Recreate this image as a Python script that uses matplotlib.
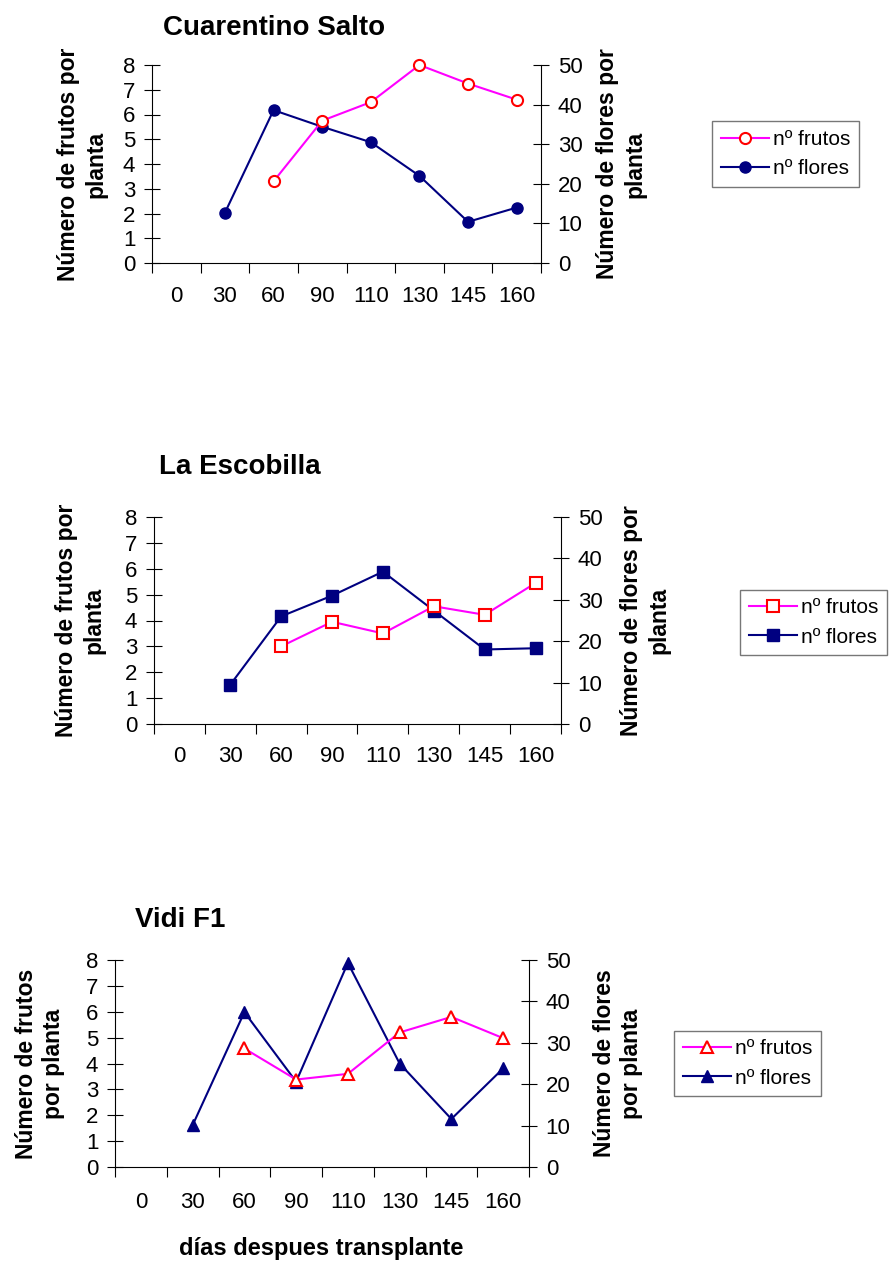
import matplotlib
matplotlib.use("Agg")
import matplotlib.pyplot as plt
import numpy as np

plt.rcParams["font.family"] = ["Liberation Sans", "DejaVu Sans"]

# ── data ────────────────────────────────────────────────────────────────────
dias = ["0", "30", "60", "90", "110", "130", "145", "160"]
nan = np.nan

salto_frutos = [nan, nan, 3.3, 5.75, 6.5, 8.0, 7.25, 6.6]
salto_flores = [nan, 12.7, 38.6, 34.4, 30.5, 22.0, 10.4, 14.0]

escobilla_frutos = [nan, nan, 3.0, 3.95, 3.5, 4.55, 4.22, 5.45]
escobilla_flores = [nan, 9.5, 26.0, 31.0, 36.8, 27.4, 18.0, 18.3]

vidi_frutos = [nan, nan, 4.58, 3.38, 3.6, 5.2, 5.8, 4.98]
vidi_flores = [nan, 10.1, 37.4, 20.6, 49.3, 25.0, 11.6, 23.8]

W, H = 894, 1263
PINK, RED, NAVY = "#ff00ff", "#ff0000", "#000080"

fig = plt.figure(figsize=(W / 100, H / 100), dpi=100)


def fx(x):
    return x / W


def fy(y):
    return 1 - y / H


def panel(box, title, title_xy, frutos, flores, marker, lab_l, lab_r, leg_box, xlab_y):
    x0, y0, x1, y1 = box
    ax = fig.add_axes([fx(x0), fy(y1), (x1 - x0) / W, (y1 - y0) / H])
    ax2 = ax.twinx()
    pos = np.arange(len(dias))

    l1, = ax.plot(pos, frutos, color=PINK, lw=1.5, marker=marker, ms=8,
                  mfc="white", mec=RED, mew=1.5, zorder=3, clip_on=False)
    l2, = ax2.plot(pos, flores, color=NAVY, lw=1.5, marker=marker, ms=8,
                   mfc=NAVY, mec=NAVY, zorder=3, clip_on=False)

    ax.set_xlim(-0.5, len(dias) - 0.5)
    ax.set_ylim(0, 8)
    ax2.set_ylim(0, 50)
    ax.set_yticks(range(0, 9))
    ax2.set_yticks(range(0, 51, 10))

    # tick marks between categories, labels at category centres
    ax.set_xticks(np.arange(-0.5, len(dias)))
    ax.set_xticklabels([])
    ax.tick_params(axis="x", which="major", direction="out", length=7, width=0.8)
    ax.set_xticks(pos, minor=True)
    ax.set_xticklabels(dias, minor=True)
    ax.tick_params(axis="x", which="minor", length=0, pad=(xlab_y - y1) * 0.72 - 8,
                   labelsize=16)

    ax.tick_params(axis="y", direction="inout", length=12, width=0.8,
                   labelsize=16, pad=6)
    ax2.tick_params(axis="y", direction="inout", length=12, width=0.8,
                    labelsize=16, pad=6)

    for a in (ax, ax2):
        a.spines["top"].set_visible(False)
        for s in ("left", "right", "bottom"):
            a.spines[s].set_linewidth(0.8)
            a.spines[s].set_color("black")
    ax.spines["right"].set_visible(False)
    ax2.spines["left"].set_visible(False)
    ax2.spines["bottom"].set_visible(False)
    ax.set_zorder(ax2.get_zorder() + 1)
    ax.patch.set_visible(False)

    fig.text(fx(title_xy[0]), fy(title_xy[1]), title, fontsize=20,
             fontweight="bold", ha="left", va="center")

    fig.text(fx(lab_l[0]), fy((y0 + y1) / 2), lab_l[1], rotation=90,
             fontsize=16.5, fontweight="bold", ha="center", va="center",
             ma="center", linespacing=1.25)
    fig.text(fx(lab_r[0]), fy((y0 + y1) / 2), lab_r[1], rotation=90,
             fontsize=16.5, fontweight="bold", ha="center", va="center",
             ma="center", linespacing=1.25)

    lx0, ly0, lx1, ly1 = leg_box
    leg = ax.legend([l1, l2], ["nº frutos", "nº flores"], loc="center",
                    bbox_to_anchor=(fx((lx0 + lx1) / 2), fy((ly0 + ly1) / 2)),
                    bbox_transform=fig.transFigure, fontsize=15,
                    frameon=True, fancybox=False, edgecolor="#555555",
                    handlelength=2.3, handletextpad=0.2, borderpad=0.4,
                    labelspacing=0.5, borderaxespad=0, numpoints=1)
    leg.get_frame().set_linewidth(1.0)
    return ax


panel((152, 65, 541, 263), "Cuarentino Salto", (163, 28),
      salto_frutos, salto_flores, "o",
      (82, "Número de frutos por\nplanta"), (621, "Número de flores por\nplanta"),
      (710, 117, 861, 191), 297)

panel((154, 517, 561, 724), "La Escobilla", (159, 467),
      escobilla_frutos, escobilla_flores, "s",
      (80, "Número de frutos por\nplanta"), (645, "Número de flores por\nplanta"),
      (735, 584, 892, 661), 757)

panel((115, 960, 529, 1167), "Vidi F1", (135, 920),
      vidi_frutos, vidi_flores, "^",
      (40, "Número de frutos\npor planta"), (618, "Número de flores\npor planta"),
      (664, 1023, 831, 1104), 1203)

fig.text(fx(321), fy(1248), "días despues transplante", fontsize=17,
         fontweight="bold", ha="center", va="center")

fig.savefig("out.png", dpi=100, facecolor="white")
